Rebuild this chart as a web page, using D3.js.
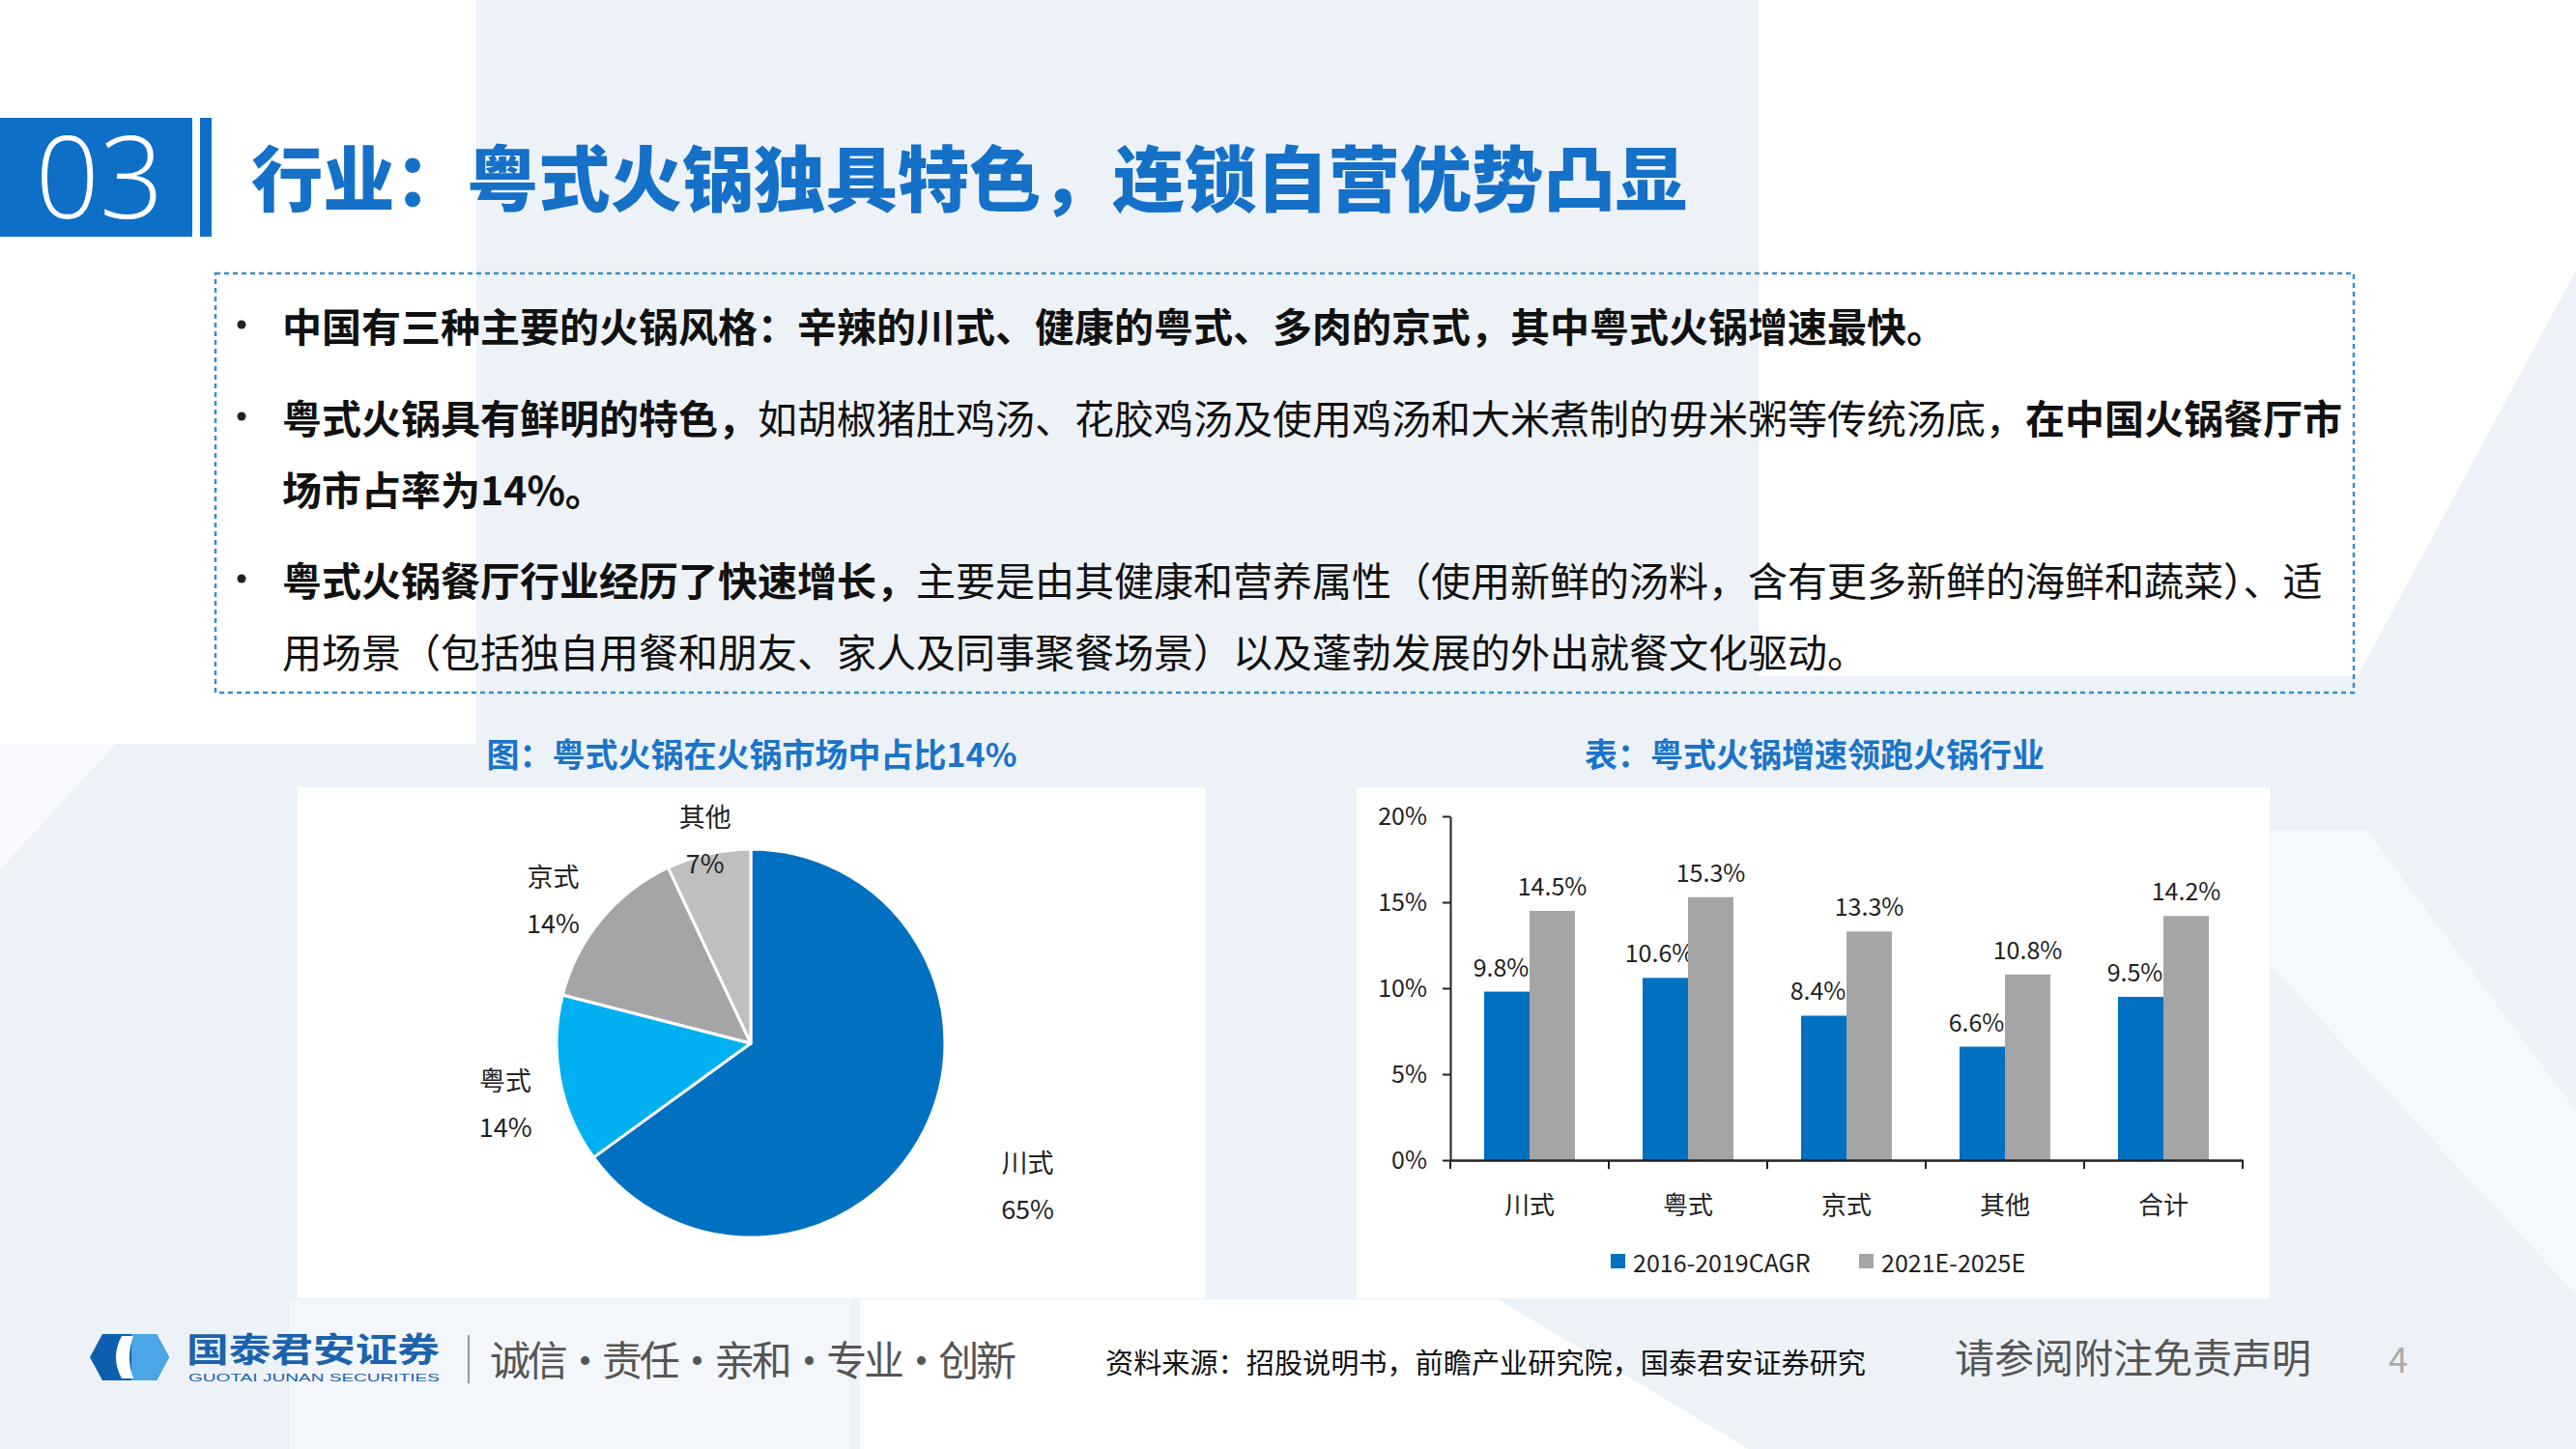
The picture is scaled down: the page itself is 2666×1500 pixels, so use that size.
<!DOCTYPE html>
<html><head><meta charset="utf-8">
<script src="https://cdn.jsdelivr.net/npm/d3@7/dist/d3.min.js"></script>
<style>
html,body{margin:0;padding:0;background:#fff;}
svg{display:block;}
text{font-family:"Noto Sans CJK SC","Noto Sans",sans-serif;}
</style>
</head><body>
<svg id="c" width="2666" height="1500"></svg>
<script>
// ---------------- data ----------------
const pieCategories = ['川式', '粤式', '京式', '其他'];
const pieValues = [65, 14, 14, 7];
const barCategories = ['川式', '粤式', '京式', '其他', '合计'];
const seriesNames = ['2016-2019CAGR', '2021E-2025E'];
const cagr2016_2019 = [9.8, 10.6, 8.4, 6.6, 9.5];
const cagr2021_2025 = [14.5, 15.3, 13.3, 10.8, 14.2];
const yTickValues = [0, 5, 10, 15, 20];
const pageTitle = '行业：粤式火锅独具特色，连锁自营优势凸显';
const pieTitle = '图：粤式火锅在火锅市场中占比14%';
const barTitle = '表：粤式火锅增速领跑火锅行业';
const bulletLines = [
  {bullet: true, segs: [['中国有三种主要的火锅风格：辛辣的川式、健康的粤式、多肉的京式，其中粤式火锅增速最快。', 1]]},
  {bullet: true, segs: [['粤式火锅具有鲜明的特色，', 1], ['如胡椒猪肚鸡汤、花胶鸡汤及使用鸡汤和大米煮制的毋米粥等传统汤底，', 0], ['在中国火锅餐厅市', 1]]},
  {bullet: false, segs: [['场市占率为14%。', 1]]},
  {bullet: true, segs: [['粤式火锅餐厅行业经历了快速增长，', 1], ['主要是由其健康和营养属性（使用新鲜的汤料，含有更多新鲜的海鲜和蔬菜）、适', 0]]},
  {bullet: false, segs: [['用场景（包括独自用餐和朋友、家人及同事聚餐场景）以及蓬勃发展的外出就餐文化驱动。', 0]]}
];

// ---------------- style ----------------
const BLUE = '#0d6fc6';
const pieColors = ['#0070C0', '#00B0F0', '#A5A5A5', '#BFBFBF'];
const barColors = ['#0070C0', '#A5A5A5'];

const svg = d3.select('#c');

// ---------------- background ----------------
const bg = svg.append('g');
bg.append('rect').attr('width', 2666).attr('height', 1500).attr('fill', '#edf2f8');
const bgPolys = [
  [[0,0],[493,0],[493,770],[0,770]],
  [[1820,0],[2666,0],[2666,280],[2440,700],[1820,700]],
  [[0,770],[120,770],[0,900]],
  [[890,1345],[1550,1345],[1810,1500],[890,1500]],
  [[300,1345],[880,1345],[880,1500],[300,1500]],
  [[2350,860],[2450,860],[2666,1150],[2666,1340],[2350,1000]]
];
const bgFills = ['#ffffff', '#ffffff', '#f8fafd', '#ffffff', '#f3f6fb', '#f6f9fc'];
bg.selectAll('path.bgp').data(bgPolys).join('path')
  .attr('d', d => 'M' + d.map(p => p.join(',')).join('L') + 'Z')
  .attr('fill', (d, i) => bgFills[i]);

// ---------------- header ----------------
svg.append('rect').attr('x', 0).attr('y', 122).attr('width', 199).attr('height', 123).attr('fill', BLUE);
svg.append('rect').attr('x', 207).attr('y', 122).attr('width', 12).attr('height', 123).attr('fill', BLUE);
svg.append('text').attr('x', 103).attr('y', 180).attr('text-anchor', 'middle')
  .attr('dominant-baseline', 'central')
  .style('font-family', '"Open Sans", sans-serif').attr('font-weight', 300)
  .attr('font-size', 118).attr('fill', '#fff').attr('textLength', 133).attr('lengthAdjust', 'spacingAndGlyphs')
  .text('03');
svg.append('text').attr('x', 260).attr('y', 180).attr('dominant-baseline', 'central')
  .attr('font-size', 74).attr('font-weight', 900).attr('fill', '#1570c8')
  .attr('textLength', 1486).attr('lengthAdjust', 'spacingAndGlyphs')
  .text(pageTitle);

// ---------------- dashed text box ----------------
svg.append('rect').attr('x', 223).attr('y', 283).attr('width', 2213).attr('height', 434)
  .attr('fill', 'none').attr('stroke', '#3a8cc6').attr('stroke-width', 2.5).attr('stroke-dasharray', '5,4');

const lineY = [336, 431, 505, 599, 673];
bulletLines.forEach((ln, i) => {
  if (ln.bullet) {
    svg.append('circle').attr('cx', 250).attr('cy', lineY[i]).attr('r', 4.5).attr('fill', '#222');
  }
  const t = svg.append('text').attr('x', 292).attr('y', lineY[i]).attr('dominant-baseline', 'central')
    .attr('font-size', 41).attr('fill', '#111');
  ln.segs.forEach(s => t.append('tspan').attr('font-weight', s[1] ? 700 : 400).text(s[0]));
});

// ---------------- chart titles ----------------
svg.append('text').attr('x', 778).attr('y', 779).attr('text-anchor', 'middle').attr('dominant-baseline', 'central')
  .attr('font-size', 34).attr('font-weight', 700).attr('fill', '#1a74c9').text(pieTitle);
svg.append('text').attr('x', 1878).attr('y', 779).attr('text-anchor', 'middle').attr('dominant-baseline', 'central')
  .attr('font-size', 34).attr('font-weight', 700).attr('fill', '#1a74c9').text(barTitle);

// ---------------- panels ----------------
svg.append('rect').attr('x', 308).attr('y', 815).attr('width', 940).attr('height', 529).attr('fill', '#fff');
svg.append('rect').attr('x', 1404).attr('y', 815).attr('width', 945).attr('height', 529).attr('fill', '#fff');

// ---------------- pie ----------------
const pcx = 777, pcy = 1080, pr = 201;
const labelRadius = [1.60, 1.30, 1.26, 1.08];
const labelAngleShift = [0, -0.05, -0.06, 0];
const pieData = d3.pie().sort(null).value(d => d)(pieValues);
const arc = d3.arc().innerRadius(0).outerRadius(pr);
const pg = svg.append('g').attr('transform', `translate(${pcx},${pcy})`);
pg.selectAll('path').data(pieData).join('path')
  .attr('d', arc).attr('fill', (d, i) => pieColors[i])
  .attr('stroke', '#fff').attr('stroke-width', 3).attr('stroke-linejoin', 'round');
pieData.forEach((d, i) => {
  const a = (d.startAngle + d.endAngle) / 2 + labelAngleShift[i];
  const rr = pr * labelRadius[i];
  const lx = Math.sin(a) * rr, ly = -Math.cos(a) * rr;
  const g = pg.append('g').attr('transform', `translate(${lx},${ly})`);
  g.append('text').attr('y', -24).attr('text-anchor', 'middle').attr('dominant-baseline', 'central')
    .attr('font-size', 27).attr('fill', '#222').text(pieCategories[i]);
  g.append('text').attr('y', 24).attr('text-anchor', 'middle').attr('dominant-baseline', 'central')
    .attr('font-size', 27).attr('fill', '#222').text(pieValues[i] + '%');
});

// ---------------- bar chart ----------------
const x0 = d3.scaleBand().domain(barCategories).range([1501, 2321]).padding(0);
const x1 = d3.scaleBand().domain(seriesNames).range([0, x0.bandwidth()]).paddingInner(0).paddingOuter(0.745);
const y = d3.scaleLinear().domain([0, 20]).range([1201, 845]);
const seriesVals = [cagr2016_2019, cagr2021_2025];

const bg2 = svg.append('g');
seriesNames.forEach((s, si) => {
  bg2.selectAll('rect.s' + si).data(barCategories).join('rect')
    .attr('class', 's' + si)
    .attr('x', c => x0(c) + x1(s)).attr('width', x1.bandwidth())
    .attr('y', (c, ci) => y(seriesVals[si][ci]))
    .attr('height', (c, ci) => y(0) - y(seriesVals[si][ci]))
    .attr('fill', barColors[si]);
  bg2.selectAll('text.l' + si).data(barCategories).join('text')
    .attr('class', 'l' + si)
    .attr('x', c => x0(c) + x1(s) + x1.bandwidth() / 2 - (si === 0 ? 6 : 0))
    .attr('y', (c, ci) => y(seriesVals[si][ci]) - 16)
    .attr('text-anchor', 'middle').attr('font-size', 25).attr('fill', '#222')
    .text((c, ci) => seriesVals[si][ci].toFixed(1) + '%');
});

// y axis
const yAxis = d3.axisLeft(y).tickValues(yTickValues).tickFormat(d => d + '%').tickSize(8).tickSizeOuter(0);
const yg = svg.append('g').attr('transform', 'translate(1501,0)').call(yAxis);
yg.select('.domain').attr('stroke', '#222').attr('stroke-width', 2);
yg.selectAll('.tick line').attr('stroke', '#222').attr('stroke-width', 2);
yg.selectAll('.tick text').attr('font-size', 25).attr('fill', '#222').attr('x', -24)
  .style('font-family', '"Noto Sans CJK SC", sans-serif');

// x axis
const xAxis = d3.axisBottom(x0).tickSize(0).tickSizeOuter(0);
const xg = svg.append('g').attr('transform', 'translate(0,1201)').call(xAxis);
xg.select('.domain').attr('stroke', '#222').attr('stroke-width', 2.5);
xg.selectAll('.tick text').attr('font-size', 26).attr('fill', '#222').attr('y', 44).attr('dy', 0)
  .attr('dominant-baseline', 'central')
  .style('font-family', '"Noto Sans CJK SC", sans-serif');
const bounds = barCategories.map(c => x0(c)).concat([x0.range()[1]]);
xg.selectAll('line.sep').data(bounds).join('line').attr('class', 'sep')
  .attr('x1', d => d).attr('x2', d => d).attr('y1', 0).attr('y2', 9)
  .attr('stroke', '#222').attr('stroke-width', 2);

// legend
const legendX = [1667, 1924];
seriesNames.forEach((s, i) => {
  svg.append('rect').attr('x', legendX[i]).attr('y', 1298).attr('width', 15).attr('height', 15).attr('fill', barColors[i]);
  svg.append('text').attr('x', legendX[i] + 23).attr('y', 1306).attr('dominant-baseline', 'central')
    .attr('font-size', 25).attr('fill', '#222').text(s);
});

// ---------------- footer ----------------
const logo = svg.append('g').attr('transform', 'translate(134,1405)');
logo.append('path').attr('d', 'M-41,0 L-28,-24 L28,-24 L41,0 L28,24 L-28,24 Z').attr('fill', '#0d5fae');
logo.append('path').attr('d', 'M2,-24 L28,-24 L41,0 L28,24 L2,24 Z').attr('fill', '#4aa6e6');
logo.append('path').attr('d', 'M-8,-22 Q-20,0 -8,22 L4,22 Q-4,0 4,-22 Z').attr('fill', '#fff');
svg.append('text').attr('x', 193).attr('y', 1394).attr('dominant-baseline', 'central')
  .attr('font-size', 35).attr('font-weight', 700).attr('fill', '#1b63ad')
  .attr('textLength', 262).attr('lengthAdjust', 'spacingAndGlyphs').text('国泰君安证券');
svg.append('text').attr('x', 195).attr('y', 1426).attr('dominant-baseline', 'central')
  .attr('font-size', 11).attr('fill', '#1b63ad').style('font-family', '"Liberation Sans", sans-serif')
  .attr('textLength', 260).attr('lengthAdjust', 'spacingAndGlyphs').text('GUOTAI JUNAN SECURITIES');
svg.append('line').attr('x1', 485).attr('x2', 485).attr('y1', 1382).attr('y2', 1432).attr('stroke', '#999').attr('stroke-width', 2);
svg.append('text').attr('x', 507).attr('y', 1405).attr('dominant-baseline', 'central')
  .attr('font-size', 42).attr('fill', '#555').attr('textLength', 545).attr('lengthAdjust', 'spacing')
  .text('诚信·责任·亲和·专业·创新');
svg.append('text').attr('x', 1144).attr('y', 1409).attr('dominant-baseline', 'central')
  .attr('font-size', 29).attr('fill', '#111').attr('textLength', 787).attr('lengthAdjust', 'spacingAndGlyphs')
  .text('资料来源：招股说明书，前瞻产业研究院，国泰君安证券研究');
svg.append('text').attr('x', 2023).attr('y', 1403).attr('dominant-baseline', 'central')
  .attr('font-size', 41).attr('fill', '#555').text('请参阅附注免责声明');
svg.append('text').attr('x', 2482).attr('y', 1405).attr('text-anchor', 'middle').attr('dominant-baseline', 'central')
  .attr('font-size', 36).attr('fill', '#aaa').text('4');
</script>
</body></html>
